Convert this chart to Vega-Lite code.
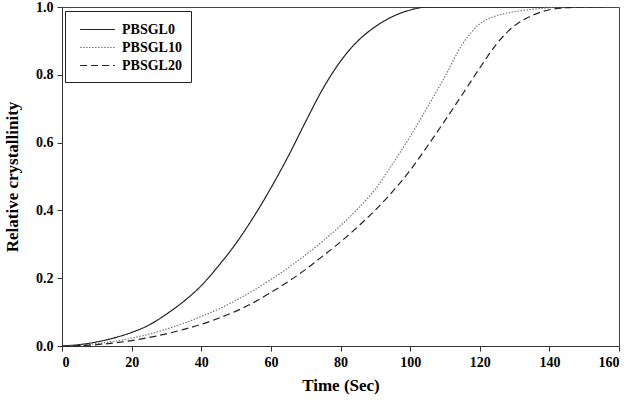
{
  "$schema": "https://vega.github.io/schema/vega-lite/v6.json",
  "autosize": "none",
  "width": 557,
  "height": 339,
  "padding": {"left": 62, "top": 7, "right": 6, "bottom": 56},
  "background": "white",
  "config": {
    "view": {"stroke": "#444", "strokeWidth": 1},
    "font": "Liberation Serif",
    "axis": {
      "grid": false,
      "domainColor": "#333",
      "tickColor": "#333",
      "tickSize": 5,
      "labelFont": "Liberation Serif",
      "labelFontWeight": "bold",
      "labelFontSize": 14,
      "labelColor": "black",
      "titleFont": "Liberation Serif",
      "titleFontWeight": "bold",
      "titleFontSize": 17,
      "titleColor": "black"
    }
  },
  "data": {
    "values": [
      {"t": 0, "y": 0, "s": "PBSGL0"},
      {"t": 5, "y": 0.004, "s": "PBSGL0"},
      {"t": 10, "y": 0.012, "s": "PBSGL0"},
      {"t": 15, "y": 0.024, "s": "PBSGL0"},
      {"t": 20, "y": 0.04, "s": "PBSGL0"},
      {"t": 25, "y": 0.062, "s": "PBSGL0"},
      {"t": 30, "y": 0.094, "s": "PBSGL0"},
      {"t": 35, "y": 0.132, "s": "PBSGL0"},
      {"t": 40, "y": 0.178, "s": "PBSGL0"},
      {"t": 45, "y": 0.237, "s": "PBSGL0"},
      {"t": 50, "y": 0.303, "s": "PBSGL0"},
      {"t": 55, "y": 0.38, "s": "PBSGL0"},
      {"t": 60, "y": 0.466, "s": "PBSGL0"},
      {"t": 65, "y": 0.56, "s": "PBSGL0"},
      {"t": 70, "y": 0.662, "s": "PBSGL0"},
      {"t": 75, "y": 0.76, "s": "PBSGL0"},
      {"t": 80, "y": 0.84, "s": "PBSGL0"},
      {"t": 85, "y": 0.9, "s": "PBSGL0"},
      {"t": 90, "y": 0.942, "s": "PBSGL0"},
      {"t": 95, "y": 0.972, "s": "PBSGL0"},
      {"t": 100, "y": 0.991, "s": "PBSGL0"},
      {"t": 105, "y": 1.0, "s": "PBSGL0"},
      {"t": 155, "y": 1.0, "s": "PBSGL0"},
      {"t": 0, "y": 0, "s": "PBSGL10"},
      {"t": 5, "y": 0.002, "s": "PBSGL10"},
      {"t": 10, "y": 0.007, "s": "PBSGL10"},
      {"t": 15, "y": 0.014, "s": "PBSGL10"},
      {"t": 20, "y": 0.023, "s": "PBSGL10"},
      {"t": 25, "y": 0.035, "s": "PBSGL10"},
      {"t": 30, "y": 0.05, "s": "PBSGL10"},
      {"t": 35, "y": 0.067, "s": "PBSGL10"},
      {"t": 40, "y": 0.087, "s": "PBSGL10"},
      {"t": 45, "y": 0.109, "s": "PBSGL10"},
      {"t": 50, "y": 0.135, "s": "PBSGL10"},
      {"t": 55, "y": 0.164, "s": "PBSGL10"},
      {"t": 60, "y": 0.196, "s": "PBSGL10"},
      {"t": 65, "y": 0.231, "s": "PBSGL10"},
      {"t": 70, "y": 0.269, "s": "PBSGL10"},
      {"t": 75, "y": 0.31, "s": "PBSGL10"},
      {"t": 80, "y": 0.355, "s": "PBSGL10"},
      {"t": 85, "y": 0.405, "s": "PBSGL10"},
      {"t": 90, "y": 0.463, "s": "PBSGL10"},
      {"t": 95, "y": 0.538, "s": "PBSGL10"},
      {"t": 100, "y": 0.618, "s": "PBSGL10"},
      {"t": 105, "y": 0.705, "s": "PBSGL10"},
      {"t": 110, "y": 0.795, "s": "PBSGL10"},
      {"t": 115, "y": 0.89, "s": "PBSGL10"},
      {"t": 120, "y": 0.95, "s": "PBSGL10"},
      {"t": 125, "y": 0.975, "s": "PBSGL10"},
      {"t": 130, "y": 0.986, "s": "PBSGL10"},
      {"t": 135, "y": 0.993, "s": "PBSGL10"},
      {"t": 140, "y": 0.998, "s": "PBSGL10"},
      {"t": 145, "y": 1.0, "s": "PBSGL10"},
      {"t": 155, "y": 1.0, "s": "PBSGL10"},
      {"t": 0, "y": 0, "s": "PBSGL20"},
      {"t": 5, "y": 0.001, "s": "PBSGL20"},
      {"t": 10, "y": 0.004, "s": "PBSGL20"},
      {"t": 15, "y": 0.009, "s": "PBSGL20"},
      {"t": 20, "y": 0.016, "s": "PBSGL20"},
      {"t": 25, "y": 0.025, "s": "PBSGL20"},
      {"t": 30, "y": 0.036, "s": "PBSGL20"},
      {"t": 35, "y": 0.049, "s": "PBSGL20"},
      {"t": 40, "y": 0.064, "s": "PBSGL20"},
      {"t": 45, "y": 0.082, "s": "PBSGL20"},
      {"t": 50, "y": 0.103, "s": "PBSGL20"},
      {"t": 55, "y": 0.128, "s": "PBSGL20"},
      {"t": 60, "y": 0.158, "s": "PBSGL20"},
      {"t": 65, "y": 0.19, "s": "PBSGL20"},
      {"t": 70, "y": 0.226, "s": "PBSGL20"},
      {"t": 75, "y": 0.266, "s": "PBSGL20"},
      {"t": 80, "y": 0.307, "s": "PBSGL20"},
      {"t": 85, "y": 0.352, "s": "PBSGL20"},
      {"t": 90, "y": 0.401, "s": "PBSGL20"},
      {"t": 95, "y": 0.456, "s": "PBSGL20"},
      {"t": 100, "y": 0.518, "s": "PBSGL20"},
      {"t": 105, "y": 0.59, "s": "PBSGL20"},
      {"t": 110, "y": 0.665, "s": "PBSGL20"},
      {"t": 115, "y": 0.742, "s": "PBSGL20"},
      {"t": 120, "y": 0.82, "s": "PBSGL20"},
      {"t": 125, "y": 0.893, "s": "PBSGL20"},
      {"t": 130, "y": 0.945, "s": "PBSGL20"},
      {"t": 135, "y": 0.975, "s": "PBSGL20"},
      {"t": 140, "y": 0.992, "s": "PBSGL20"},
      {"t": 145, "y": 0.998, "s": "PBSGL20"},
      {"t": 150, "y": 1.0, "s": "PBSGL20"},
      {"t": 155, "y": 1.0, "s": "PBSGL20"}
    ]
  },
  "mark": {"type": "line", "interpolate": "monotone", "strokeWidth": 1.2, "clip": true},
  "encoding": {
    "x": {
      "field": "t", "type": "quantitative",
      "scale": {"domain": [0, 160], "nice": false},
      "axis": {"values": [0, 20, 40, 60, 80, 100, 120, 140, 160], "title": "Time (Sec)", "titlePadding": 8, "labelPadding": 4}
    },
    "y": {
      "field": "y", "type": "quantitative",
      "scale": {"domain": [0, 1], "nice": false},
      "axis": {"values": [0, 0.2, 0.4, 0.6, 0.8, 1.0], "format": ".1f", "title": "Relative crystallinity", "titlePadding": 14, "labelPadding": 4}
    },
    "color": {
      "field": "s", "type": "nominal",
      "scale": {"domain": ["PBSGL0", "PBSGL10", "PBSGL20"], "range": ["#222", "#777", "#222"]},
      "legend": {
        "title": null,
        "orient": "none",
        "legendX": 3,
        "legendY": 4,
        "symbolType": "M-0.4,0H3.7",
        "symbolSize": 289,
        "symbolStrokeWidth": 1.2,
        "labelFont": "Liberation Serif",
        "labelFontWeight": "bold",
        "labelFontSize": 14,
        "labelColor": "black",
        "labelOffset": 29,
        "rowPadding": 1,
        "padding": 9,
        "strokeColor": "#222",
        "fillColor": "white"
      }
    },
    "strokeDash": {
      "field": "s", "type": "nominal",
      "scale": {"domain": ["PBSGL0", "PBSGL10", "PBSGL20"], "range": [[1, 0], [1.5, 1.5], [7, 4]]},
      "legend": {
        "title": null,
        "orient": "none",
        "legendX": 3,
        "legendY": 4,
        "symbolType": "M-0.4,0H3.7",
        "symbolSize": 289,
        "symbolStrokeWidth": 1.2,
        "labelFont": "Liberation Serif",
        "labelFontWeight": "bold",
        "labelFontSize": 14,
        "labelColor": "black",
        "labelOffset": 29,
        "rowPadding": 1,
        "padding": 9,
        "strokeColor": "#222",
        "fillColor": "white"
      }
    }
  }
}
